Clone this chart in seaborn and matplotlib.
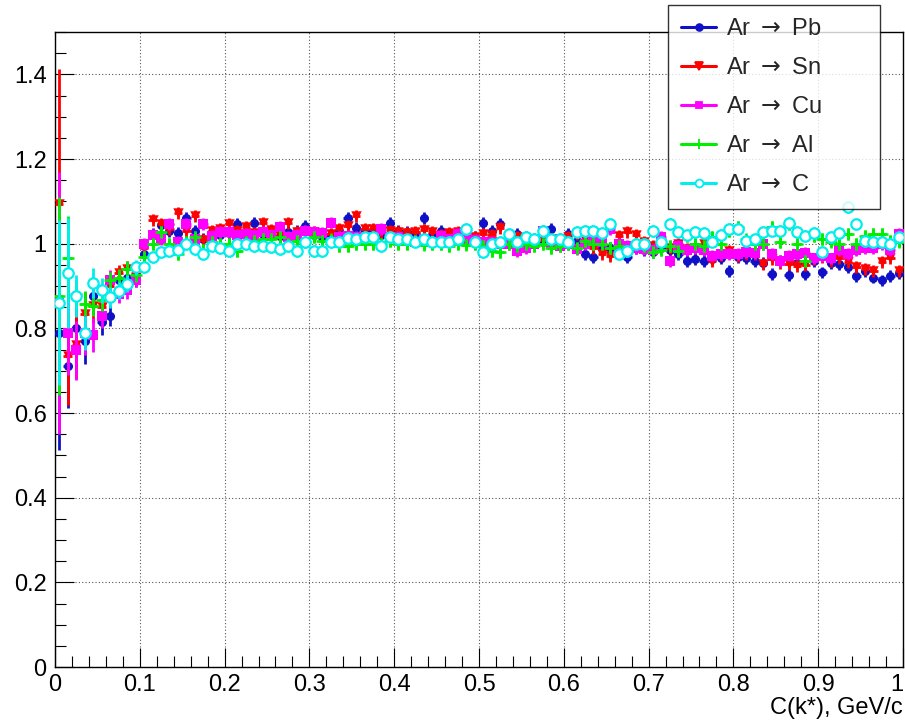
import numpy as np
import pandas as pd
import matplotlib
matplotlib.use("Agg")
import matplotlib.pyplot as plt
import seaborn as sns
from matplotlib.lines import Line2D
from matplotlib.ticker import MultipleLocator

# ---------------- data ----------------
k_centers = np.arange(0.005, 1.0, 0.01)

pb = [0.788, 0.712, 0.800, 0.770, 0.877, 0.814, 0.830, 0.913, 0.920, 0.915,
      0.975, 1.023, 1.045, 1.030, 1.025, 1.060, 1.030, 1.012, 1.027, 1.020,
      1.025, 1.046, 1.027, 1.050, 1.022, 1.025, 1.018, 1.027, 1.031, 1.042,
      1.020, 1.015, 1.020, 1.031, 1.060, 1.038, 1.031, 1.030, 1.020, 1.050,
      1.031, 1.027, 1.025, 1.060, 1.020, 1.030, 1.022, 1.020, 1.018, 1.015,
      1.048, 1.030, 1.046, 1.011, 1.022, 1.015, 1.010, 1.005, 1.034, 1.010,
      1.022, 1.007, 0.976, 0.969, 0.990, 0.990, 0.985, 0.968, 0.990, 0.985,
      0.980, 0.990, 0.985, 0.975, 0.960, 0.963, 0.960, 0.963, 0.965, 0.935,
      0.968, 0.965, 0.960, 0.955, 0.928, 0.960, 0.926, 0.955, 0.928, 0.960,
      0.932, 0.955, 0.952, 0.945, 0.924, 0.935, 0.920, 0.913, 0.924, 0.930]

sn = [1.094, 0.735, 0.760, 0.835, 0.853, 0.850, 0.900, 0.930, 0.940, 0.930,
      0.990, 1.056, 1.046, 1.035, 1.072, 1.030, 1.066, 1.008, 1.031, 1.035,
      1.046, 1.031, 1.040, 1.025, 1.050, 1.033, 1.018, 1.048, 1.028, 1.031,
      1.027, 1.020, 1.024, 1.035, 1.042, 1.066, 1.035, 1.035, 1.025, 1.031,
      1.027, 1.025, 1.027, 1.032, 1.027, 1.020, 1.025, 1.027, 1.025, 1.015,
      1.022, 1.020, 1.038, 1.012, 1.015, 1.010, 1.012, 1.008, 1.011, 1.012,
      1.015, 1.022, 1.015, 0.990, 0.976, 0.970, 1.019, 1.027, 1.020, 1.005,
      0.995, 1.000, 0.990, 1.000, 0.988, 0.990, 1.000, 0.960, 0.972, 0.983,
      0.970, 0.976, 0.975, 0.952, 0.963, 0.955, 0.952, 0.948, 0.950, 0.963,
      0.968, 0.960, 0.965, 0.956, 0.945, 0.940, 0.936, 0.956, 0.965, 0.936]

cu = [0.860, 0.790, 0.748, 0.788, 0.785, 0.830, 0.913, 0.880, 0.890, 0.915,
      1.000, 1.020, 1.011, 1.046, 1.003, 1.046, 1.010, 1.046, 1.019, 1.028,
      1.028, 1.020, 1.024, 1.020, 1.027, 1.020, 1.040, 1.015, 1.020, 1.030,
      1.027, 1.025, 1.050, 1.015, 1.019, 1.015, 1.015, 1.015, 1.035, 1.015,
      1.015, 1.010, 1.005, 1.010, 1.003, 1.019, 1.010, 1.023, 1.010, 1.008,
      1.005, 1.003, 1.000, 1.000, 0.983, 0.990, 1.000, 1.030, 1.000, 0.995,
      1.000, 0.988, 1.000, 1.011, 1.005, 1.034, 1.000, 0.995, 0.990, 0.988,
      0.985, 1.015, 0.960, 0.995, 0.985, 0.990, 0.985, 0.972, 0.975, 0.975,
      0.975, 0.980, 0.978, 1.000, 0.976, 0.960, 0.972, 0.975, 0.978, 0.965,
      0.970, 0.965, 0.985, 0.975, 0.985, 0.990, 0.990, 1.000, 0.985, 1.022]

al = [0.877, 0.965, 0.880, 0.858, 0.853, 0.866, 0.913, 0.920, 0.940, 0.925,
      0.968, 1.000, 1.027, 1.000, 0.976, 1.005, 1.015, 0.985, 1.003, 1.000,
      1.000, 0.983, 1.005, 1.007, 1.012, 1.012, 1.015, 1.000, 1.007, 1.005,
      1.015, 1.007, 1.010, 0.995, 0.995, 1.000, 1.000, 1.000, 1.000, 1.007,
      1.000, 1.000, 1.007, 0.998, 1.000, 1.000, 0.995, 1.000, 0.998, 1.000,
      0.995, 0.983, 0.980, 1.000, 0.995, 1.000, 0.995, 1.000, 0.990, 0.995,
      1.000, 0.990, 1.007, 1.000, 1.000, 0.990, 0.995, 0.983, 1.000, 0.995,
      0.980, 0.985, 0.995, 0.983, 1.019, 1.000, 0.995, 1.015, 1.000, 1.030,
      1.040, 1.010, 1.000, 1.000, 1.040, 1.003, 1.046, 1.000, 0.960, 1.019,
      1.011, 1.005, 1.000, 1.023, 1.000, 1.019, 1.022, 1.022, 1.007, 1.005]

cc = [0.861, 0.930, 0.877, 0.788, 0.907, 0.890, 0.873, 0.889, 0.905, 0.944,
      0.944, 0.968, 0.980, 0.983, 0.985, 1.000, 0.988, 0.976, 0.995, 0.990,
      0.983, 1.000, 1.000, 0.995, 0.994, 0.991, 0.988, 0.995, 0.983, 1.003,
      0.983, 0.983, 1.003, 1.003, 1.013, 1.011, 1.015, 1.015, 0.995, 1.015,
      1.011, 1.010, 1.005, 1.010, 1.005, 1.005, 1.005, 1.010, 1.034, 1.005,
      0.981, 1.000, 1.005, 1.022, 1.005, 1.015, 1.010, 1.030, 1.010, 1.011,
      1.005, 1.027, 1.030, 1.030, 1.025, 1.046, 0.976, 0.983, 1.000, 1.000,
      1.030, 1.005, 1.046, 1.027, 1.020, 1.027, 1.025, 1.005, 1.020, 1.034,
      1.034, 1.007, 1.010, 1.027, 1.031, 1.031, 1.050, 1.027, 1.019, 1.025,
      0.980, 1.015, 1.025, 1.086, 1.046, 1.007, 1.003, 1.003, 1.000, 1.015]

err_tail = 0.014
pb_err_low = [0.276, 0.100, 0.070, 0.055, 0.040, 0.030, 0.025, 0.020, 0.020, 0.018]
sn_err_low = [0.318, 0.115, 0.080, 0.050, 0.040, 0.030, 0.025, 0.020, 0.020, 0.018]
cu_err_low = [0.310, 0.100, 0.070, 0.050, 0.040, 0.030, 0.025, 0.020, 0.020, 0.018]
al_err_low = [0.234, 0.100, 0.035, 0.030, 0.025, 0.025, 0.020, 0.020, 0.018, 0.016]
cc_err_low = [0.195, 0.130, 0.050, 0.040, 0.035, 0.030, 0.025, 0.020, 0.020, 0.018]

labels = ["Ar $\\rightarrow$ Pb", "Ar $\\rightarrow$ Sn", "Ar $\\rightarrow$ Cu",
          "Ar $\\rightarrow$ Al", "Ar $\\rightarrow$ C"]
values = [pb, sn, cu, al, cc]
errs_low = [pb_err_low, sn_err_low, cu_err_low, al_err_low, cc_err_low]

xticks = [0, 0.1, 0.2, 0.3, 0.4, 0.5, 0.6, 0.7, 0.8, 0.9, 1]
xticklabels = ["0", "0.1", "0.2", "0.3", "0.4", "0.5", "0.6", "0.7", "0.8", "0.9", "1"]
yticks = [0, 0.2, 0.4, 0.6, 0.8, 1.0, 1.2, 1.4]
yticklabels = ["0", "0.2", "0.4", "0.6", "0.8", "1", "1.2", "1.4"]

# ---------------- style ----------------
colors = ["#1010c8", "#ff0000", "#ff00ff", "#00ee00", "#00eeee"]
markers = ["o", "v", "s", "+", "o"]
msizes = [6.5, 7.5, 6.5, 9, 7.5]
filled = [True, True, True, True, False]

sns.set_theme(style="white")
plt.rcParams["font.family"] = ["Liberation Sans", "DejaVu Sans"]
plt.rcParams["mathtext.fontset"] = "dejavusans"

fig = plt.figure(figsize=(9.05, 7.24), dpi=100)
ax = fig.add_axes([55 / 905, 1 - 667 / 724, (903 - 55) / 905, (667 - 32) / 724])

rows = []
for lab, vals, el in zip(labels, values, errs_low):
    for i, (k, v) in enumerate(zip(k_centers, vals)):
        e = el[i] if i < len(el) else err_tail
        rows.append({"k": k, "C": v, "err": e, "series": lab})
df = pd.DataFrame(rows)

for j, lab in enumerate(labels):
    sub = df[df["series"] == lab]
    z = 2 + 2 * j
    ax.errorbar(sub["k"], sub["C"], yerr=sub["err"], xerr=0.005, fmt="none",
                ecolor=colors[j], elinewidth=2.0, capsize=0, zorder=z)
    if filled[j]:
        sns.scatterplot(data=sub, x="k", y="C", ax=ax, marker=markers[j],
                        color=colors[j], s=msizes[j] ** 2,
                        linewidth=(1.8 if markers[j] == "+" else 0),
                        edgecolor=colors[j], zorder=z + 1, legend=False)
    else:
        sns.scatterplot(data=sub, x="k", y="C", ax=ax, marker=markers[j],
                        facecolor="white", edgecolor=colors[j], s=msizes[j] ** 2,
                        linewidth=1.6, zorder=z + 1, legend=False)

ax.set_xlim(0, 1)
ax.set_ylim(0, 1.5)
ax.set_xticks(xticks)
ax.set_xticklabels(xticklabels)
ax.set_yticks(yticks)
ax.set_yticklabels(yticklabels)
xtl = ax.get_xticklabels()
xtl[-1].set_horizontalalignment("right")
ax.xaxis.set_minor_locator(MultipleLocator(0.02))
ax.yaxis.set_minor_locator(MultipleLocator(0.05))
ax.tick_params(axis="both", which="major", direction="in", length=14, width=0.8,
               color="black", labelsize=17, labelcolor="black")
ax.tick_params(axis="both", which="minor", direction="in", length=8, width=0.8,
               color="black")
ax.tick_params(axis="x", which="both", bottom=True, top=False, pad=5)
ax.tick_params(axis="y", which="both", left=True, right=False, pad=6)
ax.grid(True, which="major", linestyle=(0, (1, 2)), color="#555555", linewidth=0.8)
ax.set_axisbelow(True)
for s in ax.spines.values():
    s.set_color("black")
    s.set_linewidth(1.0)
    s.set_visible(True)

ax.set_xlabel("C(k*), GeV/c", loc="right", fontsize=17, color="black", labelpad=1)
ax.set_ylabel("")

handles = []
for j in range(5):
    handles.append(Line2D([0], [0], color=colors[j], lw=2.2, marker=markers[j],
                          markersize=msizes[j] * 0.75,
                          markerfacecolor=(colors[j] if filled[j] else "white"),
                          markeredgecolor=colors[j], markeredgewidth=1.3))
leg = fig.legend(handles, labels, loc="upper left",
                 bbox_to_anchor=(668 / 905, 1 - 203 / 724, 212 / 905, 198 / 724),
                 mode="expand", fontsize=17,
                 frameon=True, fancybox=False, edgecolor="black",
                 handlelength=1.5, handletextpad=0.4, labelspacing=0.72,
                 borderpad=0.55, borderaxespad=0.0)
leg.get_frame().set_linewidth(1.0)
leg.set_zorder(20)

fig.savefig("out.png", dpi=100)
